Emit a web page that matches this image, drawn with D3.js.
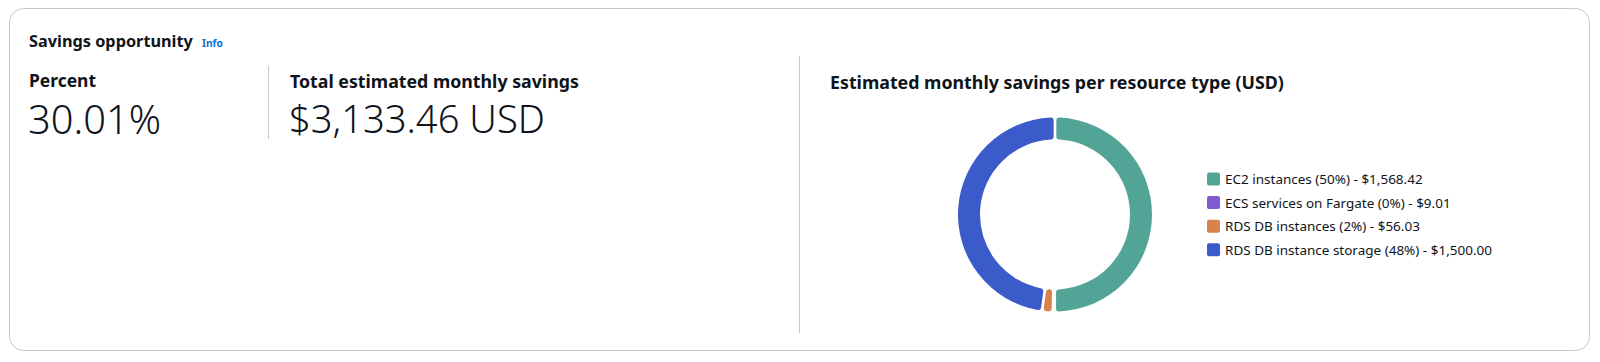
<!DOCTYPE html>
<html>
<head>
<meta charset="utf-8">
<script src="https://cdn.jsdelivr.net/npm/d3@7"></script>
<style>
  html, body { margin: 0; padding: 0; background: #fff; }
  svg { display: block; font-family: "Noto Sans", "Open Sans", sans-serif; }
</style>
</head>
<body>
<div id="d3_container"></div>
<script>

var width = 1600,
    height = 362;

// values
var resourceTypes = ["EC2 instances", "ECS services on Fargate", "RDS DB instances", "RDS DB instance storage"];
var savingsUSD = [1568.42, 9.01, 56.03, 1500.00];
var sliceColors = ["#52a596", "#7e5ccf", "#d8834c", "#3c5bcb"];
var percentSavings = 30.01;

var totalSavings = d3.sum(savingsUSD);

var fmtMoney = d3.format(",.2f");

var rows = resourceTypes.map(function(name, i){
    return {
        'name': name,
        'value': savingsUSD[i],
        'color': sliceColors[i]
    }
});

var svg = d3.select("#d3_container").append("svg")
    .attr("width", width)
    .attr("height", height);

// card
svg.append("rect")
    .attr("x", 9.5)
    .attr("y", 8.5)
    .attr("width", 1580)
    .attr("height", 342)
    .attr("rx", 14)
    .attr("fill", "#fff")
    .attr("stroke", "#c6c6cd")
    .attr("stroke-width", 1);

// shrink / grow a text so it spans the width seen in the picture
function fitText(sel, target){
    var node = sel.node();
    var size = parseFloat(sel.attr("font-size"));
    var w = node.getComputedTextLength();
    if (w > 0) sel.attr("font-size", (size * target / w).toFixed(2));
    return sel;
}

function label(x, y, txt, size, weight, color){
    return svg.append("text")
        .attr("x", x)
        .attr("y", y)
        .attr("font-size", size)
        .attr("font-weight", weight)
        .attr("fill", color || "#0f141a")
        .text(txt);
}

fitText(label(29, 47, "Savings opportunity", 16, 700), 164);
fitText(label(202, 46.5, "Info", 12, 700, "#0972d3"), 21);

fitText(label(29, 87, "Percent", 18, 700), 67);
fitText(label(28, 133.5, d3.format(".2f")(percentSavings) + "%", 40, 300), 133);

fitText(label(290, 88, "Total estimated monthly savings", 18, 700), 289);
fitText(label(289, 133, "$" + fmtMoney(totalSavings) + " USD", 40, 300), 256);

fitText(label(830, 88.5, "Estimated monthly savings per resource type (USD)", 18, 700), 454);

// column dividers
svg.append("g")
    .attr("stroke", "#c6c6cd")
    .attr("stroke-width", 1)
    .selectAll("line")
    .data([[268.5, 66, 139], [799.5, 56, 333]])
    .enter().append("line")
    .attr("x1", function(d) { return d[0]; })
    .attr("x2", function(d) { return d[0]; })
    .attr("y1", function(d) { return d[1]; })
    .attr("y2", function(d) { return d[2]; });

// donut
var pie = d3.pie()
    .sort(null)
    .value(function(d) { return d.value; });

var arc = d3.arc()
    .innerRadius(75)
    .outerRadius(97)
    .padAngle(0.022)
    .cornerRadius(3);

var donut = svg.append("g")
    .attr("transform", "translate(1055,214.5)");

donut.selectAll("path")
    .data(pie(rows))
    .enter().append("path")
    .attr("d", arc)
    .attr("fill", function(d) { return d.data.color; });

// legend
var legend = svg.append("g")
    .attr("transform", "translate(1207,179)");

var item = legend.selectAll("g")
    .data(rows)
    .enter().append("g")
    .attr("transform", function(d, i) { return "translate(0," + (i * 23.6) + ")"; });

item.append("rect")
    .attr("x", 0)
    .attr("y", -6.5)
    .attr("width", 13)
    .attr("height", 13)
    .attr("rx", 2)
    .attr("fill", function(d) { return d.color; });

var legendText = item.append("text")
    .attr("x", 18)
    .attr("y", 5)
    .attr("font-size", 14)
    .attr("fill", "#0f141a")
    .text(function(d) {
        var pct = Math.round(d.value / totalSavings * 100);
        return d.name + " (" + pct + "%) - $" + fmtMoney(d.value);
    });

// scale legend font from the longest entry
var longest = legendText.nodes()[3].getComputedTextLength();
legendText.attr("font-size", (14 * 267 / longest).toFixed(2));

</script>
</body>
</html>
